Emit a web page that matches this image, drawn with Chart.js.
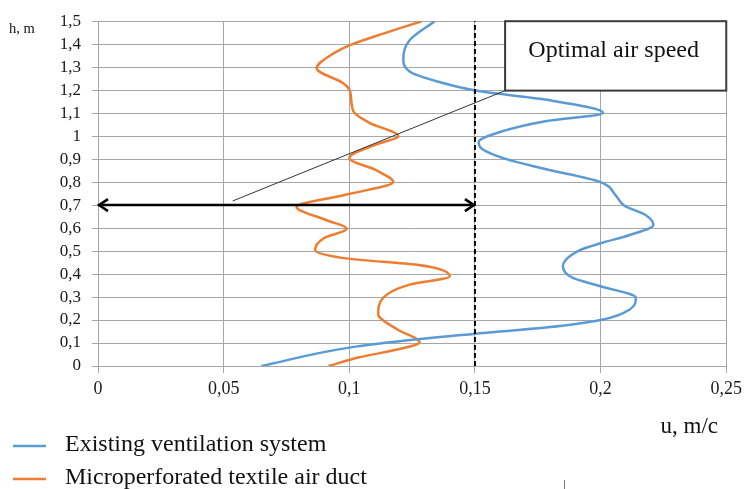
<!DOCTYPE html>
<html><head><meta charset="utf-8">
<script src="https://cdn.jsdelivr.net/npm/chart.js@4/dist/chart.umd.min.js"></script>
<style>html,body{margin:0;padding:0;background:#fff}#wrap{width:747px;height:489px}</style>
</head><body><div id="wrap"><canvas id="c" width="747" height="489"></canvas></div>
<script>
// ---- data (h in m, u in m/c) ----
const seriesLabels = ['Existing ventilation system', 'Microperforated textile air duct'];
const heightsExisting = [0, 0.08, 0.117, 0.15, 0.167, 0.2, 0.246, 0.297, 0.347, 0.383, 0.433, 0.505, 0.534, 0.57, 0.613, 0.656, 0.697, 0.742, 0.8, 0.857, 0.9, 0.943, 0.975, 1.015, 1.065, 1.101, 1.159, 1.195, 1.238, 1.281, 1.338, 1.417, 1.5];
const speedsExisting  = [0.065, 0.1, 0.128, 0.16, 0.178, 0.2, 0.2116, 0.214, 0.2, 0.189, 0.185, 0.192, 0.2, 0.2116, 0.221, 0.218, 0.2095, 0.206, 0.2, 0.178, 0.1625, 0.153, 0.1515, 0.159, 0.178, 0.201, 0.178, 0.152, 0.135, 0.124, 0.1215, 0.124, 0.134];
const heightsTextile  = [0, 0.038, 0.074, 0.103, 0.16, 0.225, 0.297, 0.354, 0.39, 0.44, 0.466, 0.505, 0.555, 0.598, 0.634, 0.692, 0.749, 0.8, 0.85, 0.905, 0.965, 1.0, 1.058, 1.108, 1.195, 1.23, 1.295, 1.36, 1.396, 1.446, 1.5];
const speedsTextile   = [0.0917, 0.104, 0.12, 0.128, 0.119, 0.1115, 0.1135, 0.124, 0.14, 0.127, 0.1003, 0.0864, 0.0897, 0.099, 0.091, 0.079, 0.1003, 0.1175, 0.111, 0.1, 0.111, 0.1195, 0.108, 0.1016, 0.1003, 0.0976, 0.087, 0.0937, 0.1003, 0.1135, 0.1288];
const optimalSpeed = 0.15;
const arrowHeight = 0.7;
const calloutFrom = {x: 0.0536, y: 0.718};
const calloutTo = {x: 0.162, y: 1.198};
const calloutBox = {xMin: 0.162, xMax: 0.25, yMin: 1.198, yMax: 1.5};
const calloutText = 'Optimal air speed';
const xTitle = 'u, m/c';
const yTitle = 'h, m';
const xMin = 0, xMax = 0.25, xStep = 0.05;
const yMin = 0, yMax = 1.5, yStep = 0.1;

const SERIF = '"Liberation Serif", "Times New Roman", serif';
const fmt = v => String(Math.round(v * 100) / 100).replace('.', ',');
const toPts = (hs, us) => hs.map((h, i) => ({x: us[i], y: h}));

const overlay = {
  id: 'overlay',
  afterDatasetsDraw(chart) {
    const ctx = chart.ctx, xs = chart.scales.x, ys = chart.scales.y;
    const ay = ys.getPixelForValue(arrowHeight);
    const ax0 = xs.getPixelForValue(0), ax1 = xs.getPixelForValue(optimalSpeed);
    ctx.save();
    ctx.strokeStyle = '#000'; ctx.lineWidth = 2.5; ctx.lineJoin = 'miter'; ctx.lineCap = 'butt';
    ctx.beginPath();
    ctx.moveTo(ax0 + 10, ay - 6); ctx.lineTo(ax0 + 1, ay); ctx.lineTo(ax0 + 10, ay + 6);
    ctx.moveTo(ax1 - 10, ay - 6); ctx.lineTo(ax1 - 1, ay); ctx.lineTo(ax1 - 10, ay + 6);
    ctx.stroke();
    const bx0 = xs.getPixelForValue(calloutBox.xMin), bx1 = xs.getPixelForValue(calloutBox.xMax);
    const by0 = ys.getPixelForValue(calloutBox.yMax), by1 = ys.getPixelForValue(calloutBox.yMin);
    ctx.fillStyle = '#fff';
    ctx.fillRect(bx0, by0, bx1 - bx0, by1 - by0);
    ctx.strokeStyle = '#3a3a3a'; ctx.lineWidth = 2;
    ctx.strokeRect(bx0, by0, bx1 - bx0, by1 - by0);
    ctx.fillStyle = '#111';
    ctx.font = '24px ' + SERIF;
    ctx.textAlign = 'center'; ctx.textBaseline = 'middle';
    ctx.fillText(calloutText, (bx0 + bx1) / 2 - 2, by0 + 30);
    ctx.restore();
  },
  afterDraw(chart) {
    const ctx = chart.ctx;
    ctx.save();
    ctx.fillStyle = '#111';
    ctx.font = '14.5px ' + SERIF;
    ctx.textAlign = 'left'; ctx.textBaseline = 'middle';
    ctx.fillText(yTitle, 9, 29);
    ctx.font = '23px ' + SERIF;
    ctx.textAlign = 'right';
    ctx.fillText(xTitle, 718, 427);
    ctx.font = '24px ' + SERIF;
    ctx.textAlign = 'left';
    const ly = [446, 479];
    [0, 1].forEach(i => {
      const ds = chart.data.datasets[i];
      ctx.strokeStyle = ds.borderColor; ctx.lineWidth = 2.5;
      ctx.beginPath(); ctx.moveTo(13, ly[i]); ctx.lineTo(46, ly[i]); ctx.stroke();
      ctx.fillStyle = '#111';
      ctx.fillText(ds.label, 65, ly[i] - 1);
    });
    ctx.strokeStyle = '#777'; ctx.lineWidth = 1;
    ctx.beginPath(); ctx.moveTo(564.5, 480); ctx.lineTo(564.5, 489); ctx.stroke();
    ctx.restore();
  }
};

new Chart(document.getElementById('c'), {
  type: 'line',
  data: {
    datasets: [
      {label: seriesLabels[0], data: toPts(heightsExisting, speedsExisting), borderColor: '#5B9BD5', backgroundColor: '#5B9BD5', borderWidth: 2.5, pointRadius: 0, cubicInterpolationMode: 'monotone', order: 1},
      {label: seriesLabels[1], data: toPts(heightsTextile, speedsTextile), borderColor: '#ED7D31', backgroundColor: '#ED7D31', borderWidth: 2.5, pointRadius: 0, cubicInterpolationMode: 'monotone', order: 2},
      {label: 'optimal', data: [{x: optimalSpeed, y: yMin}, {x: optimalSpeed, y: yMax}], borderColor: '#000', borderWidth: 2, borderDash: [5, 3], pointRadius: 0, tension: 0, order: 0, clip: false},
      {label: 'arrow', data: [{x: 0, y: arrowHeight}, {x: optimalSpeed, y: arrowHeight}], borderColor: '#000', borderWidth: 2.5, pointRadius: 0, tension: 0, order: 0, clip: false},
      {label: 'callout', data: [calloutFrom, calloutTo], borderColor: '#333', borderWidth: 1, pointRadius: 0, tension: 0, order: 0, clip: false}
    ]
  },
  options: {
    indexAxis: 'y',
    responsive: false, animation: false, devicePixelRatio: 1,
    layout: {padding: {left: 0, right: 20, top: 17, bottom: 0}},
    plugins: {legend: {display: false}, tooltip: {enabled: false}},
    scales: {
      x: {
        type: 'linear', min: xMin, max: xMax,
        ticks: {stepSize: xStep, autoSkip: false, callback: fmt, color: '#1a1a1a', font: {family: SERIF, size: 18}, padding: 5, maxRotation: 0},
        grid: {color: '#a6a6a6', lineWidth: 1, tickLength: 7, tickColor: '#a6a6a6'},
        border: {color: '#a6a6a6'},
        afterFit: s => { s.height = 123; }
      },
      y: {
        type: 'linear', min: yMin, max: yMax,
        ticks: {stepSize: yStep, autoSkip: false, callback: fmt, color: '#1a1a1a', font: {family: SERIF, size: 17}, padding: 11},
        grid: {color: '#a6a6a6', lineWidth: 1, tickLength: 6, tickColor: '#a6a6a6'},
        border: {color: '#a6a6a6'},
        afterFit: s => { s.width = 98; }
      }
    }
  },
  plugins: [overlay]
});
</script>
</body></html>
